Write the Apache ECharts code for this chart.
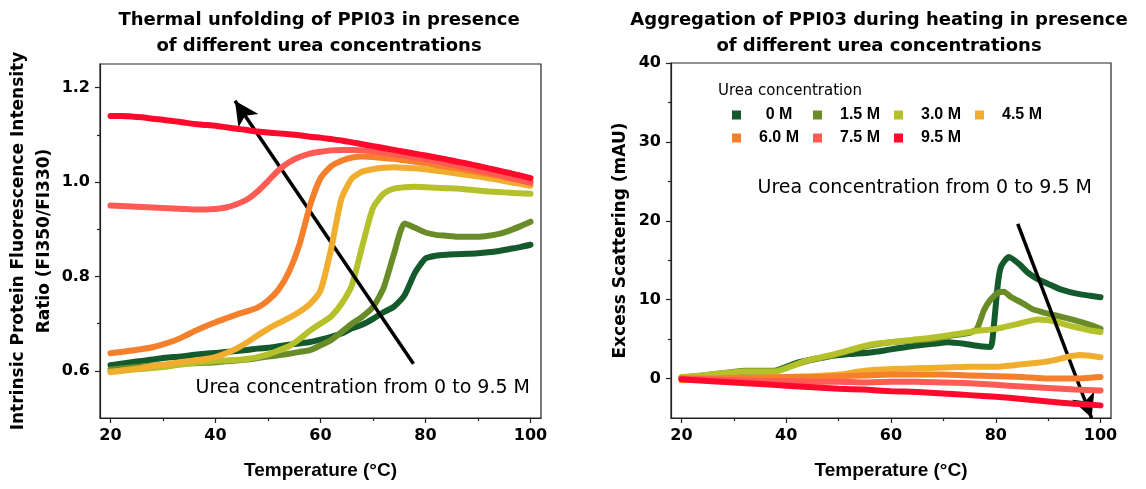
<!DOCTYPE html>
<html><head><meta charset="utf-8">
<script src="https://cdn.jsdelivr.net/npm/echarts@6/dist/echarts.min.js"></script>
<style>html,body{margin:0;padding:0;background:#fff}#c{width:1146px;height:489px}</style>
</head><body><div id="c"></div>
<script>
// ---------- data ----------
const seriesNames = ['0 M', '1.5 M', '3.0 M', '4.5 M', '6.0 M', '7.5 M', '9.5 M'];
const seriesColors = ['#145a2c', '#6a8c28', '#b5c12b', '#f1ad2e', '#f57f2a', '#ff5b55', '#ff0a2c'];
const legendRow1 = ['0 M', '1.5 M', '3.0 M', '4.5 M'];
const legendRow2 = ['6.0 M', '7.5 M', '9.5 M'];

const xTicks = [20, 40, 60, 80, 100];
const xMinor = [30, 50, 70, 90];
const yTicksL = [0.6, 0.8, 1.0, 1.2];
const yMinorL = [0.7, 0.9, 1.1];
const yTicksR = [0, 10, 20, 30, 40];
const yMinorR = [5, 15, 25, 35];

// Left panel: fluorescence ratio on a shared temperature grid
const temps = [20,22,24,26,28,30,32,34,36,38,40,42,44,46,48,50,52,54,56,58,60,62,64,66,68,70,72,74,76,78,80,82,84,86,88,90,92,94,96,98,100];
const fl_0M  = [0.612,0.615,0.618,0.621,0.624,0.627,0.629,0.631,0.634,0.636,0.638,0.640,0.642,0.644,0.647,0.649,0.652,0.655,0.658,0.661,0.666,0.672,0.679,0.690,0.698,0.710,0.724,0.736,0.760,0.808,0.838,0.844,0.846,0.847,0.848,0.849,0.851,0.854,0.858,0.862,0.867];
const fl_15M = [0.603,0.605,0.607,0.609,0.611,0.612,0.613,0.615,0.616,0.617,0.618,0.620,0.622,0.624,0.627,0.630,0.633,0.636,0.640,0.644,0.654,0.665,0.682,0.700,0.715,0.735,0.775,0.848,0.912,0.903,0.893,0.888,0.886,0.884,0.884,0.884,0.886,0.890,0.897,0.906,0.916];
const fl_30M = [0.598,0.600,0.602,0.604,0.606,0.608,0.611,0.614,0.617,0.619,0.621,0.622,0.623,0.625,0.629,0.635,0.643,0.652,0.667,0.685,0.700,0.715,0.742,0.782,0.866,0.945,0.975,0.986,0.989,0.990,0.989,0.988,0.987,0.986,0.984,0.982,0.980,0.979,0.977,0.976,0.975];
const fl_45M = [0.597,0.600,0.603,0.606,0.610,0.613,0.616,0.619,0.622,0.625,0.629,0.637,0.647,0.660,0.675,0.689,0.701,0.712,0.725,0.742,0.770,0.857,0.965,1.008,1.022,1.027,1.030,1.031,1.030,1.029,1.027,1.024,1.021,1.018,1.015,1.012,1.008,1.004,1.000,0.996,0.992];
const fl_60M = [0.637,0.640,0.643,0.646,0.650,0.656,0.663,0.673,0.684,0.694,0.703,0.711,0.719,0.726,0.734,0.749,0.772,0.810,0.868,0.950,1.008,1.033,1.045,1.052,1.054,1.053,1.051,1.049,1.046,1.043,1.040,1.036,1.032,1.029,1.025,1.021,1.017,1.013,1.008,1.004,1.000];
const fl_75M = [0.950,0.949,0.948,0.947,0.946,0.945,0.944,0.943,0.942,0.942,0.943,0.946,0.953,0.963,0.980,1.002,1.025,1.042,1.053,1.060,1.064,1.067,1.068,1.068,1.067,1.065,1.062,1.059,1.056,1.052,1.048,1.044,1.039,1.035,1.030,1.025,1.020,1.015,1.009,1.004,0.998];
const fl_95M = [1.140,1.140,1.139,1.137,1.134,1.132,1.129,1.126,1.123,1.121,1.119,1.116,1.113,1.110,1.107,1.105,1.103,1.101,1.099,1.096,1.094,1.091,1.088,1.084,1.080,1.076,1.072,1.068,1.064,1.060,1.056,1.052,1.048,1.043,1.039,1.034,1.029,1.024,1.019,1.014,1.008];

// Right panel: excess scattering, [temperature, mAU]
const sc_0M  = [[20,0],[24,0.3],[28,0.6],[32,0.9],[36,0.9],[38,1.0],[40,1.5],[42,2.0],[44,2.3],[48,2.8],[52,3.1],[56,3.3],[60,3.7],[64,4.1],[68,4.4],[71,4.6],[74,4.4],[77,4.1],[79,4.0],[79.6,6.5],[80.4,12],[81,14.2],[82.5,15.4],[84.5,14.5],[86,13.5],[88,12.6],[90,12],[92,11.4],[94,11],[96,10.7],[98,10.5],[100,10.3]];
const sc_15M = [[20,0.1],[24,0.4],[28,0.7],[32,1.0],[36,1.0],[38,1.0],[40,1.4],[44,2.2],[48,2.8],[52,3.5],[56,4.2],[60,4.6],[64,4.8],[68,5.0],[72,5.5],[75,5.8],[76.4,6.3],[77.7,8.6],[79,10.0],[80.5,10.9],[81.5,11.0],[83,10.3],[85,9.6],[87,8.8],[89,8.4],[92,7.9],[95,7.4],[98,6.8],[100,6.3]];
const sc_30M = [[20,0.2],[24,0.4],[28,0.7],[32,0.9],[36,0.9],[38,0.9],[40,1.3],[44,2.3],[48,2.9],[52,3.6],[56,4.3],[60,4.6],[64,4.9],[68,5.2],[72,5.6],[76,6.0],[80,6.3],[84,6.9],[88,7.5],[90,7.4],[92,7.1],[94,6.7],[96,6.4],[98,6.1],[100,5.9]];
const sc_45M = [[20,-0.2],[25,-0.1],[30,0.0],[35,0.1],[40,0.2],[45,0.3],[50,0.5],[53,0.8],[55,1.0],[60,1.2],[65,1.3],[70,1.4],[75,1.5],[80,1.5],[85,1.8],[88,2.0],[91,2.3],[94,2.8],[96,3.0],[98,2.9],[100,2.7]];
const sc_60M = [[20,0.0],[25,0.0],[30,0.1],[35,0.1],[40,0.2],[45,0.2],[50,0.3],[55,0.4],[60,0.5],[65,0.5],[70,0.5],[75,0.4],[80,0.3],[85,0.2],[90,0.0],[95,0.0],[100,0.2]];
const sc_75M = [[20,0.0],[25,-0.1],[30,-0.2],[35,-0.3],[40,-0.3],[45,-0.4],[50,-0.4],[55,-0.5],[60,-0.4],[65,-0.4],[70,-0.5],[75,-0.6],[80,-0.8],[85,-1.0],[90,-1.2],[95,-1.4],[100,-1.5]];
const sc_95M = [[20,-0.1],[25,-0.3],[30,-0.5],[35,-0.7],[40,-0.9],[45,-1.1],[50,-1.3],[55,-1.4],[60,-1.6],[65,-1.7],[70,-1.9],[75,-2.1],[80,-2.3],[85,-2.6],[90,-2.9],[95,-3.2],[100,-3.4]];

// Annotation arrows (data coordinates)
const arrowL = [[77.7, 0.615], [43.7, 1.172]];
const arrowR = [[84.2, 19.6], [98.3, -5.0]];

const titleL = 'Thermal unfolding of PPI03 in presence\nof different urea concentrations';
const titleR = 'Aggregation of PPI03 during heating in presence\nof different urea concentrations';
const noteText = 'Urea concentration from 0 to 9.5 M';
const legendTitle = 'Urea concentration';

// ---------- chart ----------
const flData = [fl_0M, fl_15M, fl_30M, fl_45M, fl_60M, fl_75M, fl_95M];
const scData = [sc_0M, sc_15M, sc_30M, sc_45M, sc_60M, sc_75M, sc_95M];

const BOLD = 'DejaVu Sans';
const axCol = '#222';

function xAx(grid, major) {
  return {
    type: 'value', gridIndex: grid, min: 18, max: 102, position: 'bottom',
    axisLine: { show: major, onZero: false, lineStyle: { color: axCol, width: 1.2 } },
    axisTick: { show: true, inside: false, length: major ? 5 : 3, customValues: major ? xTicks : xMinor, lineStyle: { color: axCol, width: 1.2 } },
    axisLabel: { show: major, customValues: xTicks, margin: 10, color: '#000', fontFamily: BOLD, fontWeight: 'bold', fontSize: 16 },
    splitLine: { show: false },
    name: major ? 'Temperature (°C)' : '', nameLocation: 'middle', nameGap: 43,
    nameTextStyle: { fontFamily: 'Liberation Sans', fontWeight: 'bold', fontSize: 19, color: '#000' }
  };
}
function yAx(grid, major, min, max, ticks, minor, name, gap, fmt) {
  return {
    type: 'value', gridIndex: grid, min: min, max: max, position: 'left',
    axisLine: { show: major, onZero: false, lineStyle: { color: axCol, width: 1.2 } },
    axisTick: { show: true, inside: false, length: major ? 5 : 3, customValues: major ? ticks : minor, lineStyle: { color: axCol, width: 1.2 } },
    axisLabel: { show: major, customValues: ticks, margin: 10, color: '#000', fontFamily: BOLD, fontWeight: 'bold', fontSize: 16, formatter: fmt },
    splitLine: { show: false },
    name: major ? name : '', nameLocation: 'middle', nameGap: gap,
    nameTextStyle: { fontFamily: BOLD, fontWeight: 'bold', fontSize: 17, lineHeight: 26, color: '#000' }
  };
}

const series = [];
seriesNames.forEach((n, i) => {
  series.push({
    type: 'line', name: n, xAxisIndex: 0, yAxisIndex: 0,
    data: temps.map((t, j) => [t, flData[i][j]]),
    showSymbol: false, smooth: 0.2, z: 2 + i,
    lineStyle: { width: 6, color: seriesColors[i], cap: 'round', join: 'round' },
    itemStyle: { color: seriesColors[i] }
  });
});
seriesNames.forEach((n, i) => {
  series.push({
    type: 'line', name: n, xAxisIndex: 2, yAxisIndex: 2,
    data: scData[i],
    showSymbol: false, smooth: 0.2, z: 2 + i,
    lineStyle: { width: 6, color: seriesColors[i], cap: 'round', join: 'round' },
    itemStyle: { color: seriesColors[i] }
  });
});
function arrowLine(a) {
  return {
    silent: true, symbol: ['none', 'arrow'], symbolSize: [18, 24], clip: false,
    label: { show: false }, emphasis: { disabled: true },
    lineStyle: { color: '#000', width: 3.5, type: 'solid' },
    data: [[{ coord: a[0] }, { coord: a[1] }]]
  };
}
series[6].markLine = arrowLine(arrowL);
series[13].markLine = arrowLine(arrowR);

function txt(x, y, text, font, align, valign, lh) {
  return {
    type: 'text', x: x, y: y, silent: true,
    style: { text: text, font: font, fill: '#000', align: align, verticalAlign: valign,
             textAlign: align, textVerticalAlign: valign, lineHeight: lh || undefined }
  };
}
function legendRow(names, top) {
  return {
    data: names, left: 732, top: top, orient: 'horizontal',
    padding: 0, itemGap: 1, itemWidth: 9, itemHeight: 9, icon: 'rect', selectedMode: false,
    itemStyle: { borderWidth: 0 },
    formatter: '{a|{name}}',
    textStyle: { rich: { a: { width: 66, align: 'center', fontFamily: 'Liberation Sans', fontWeight: 'bold', fontSize: 16, lineHeight: 22, color: '#000' } } }
  };
}

const option = {
  animation: false,
  backgroundColor: '#fff',
  grid: [
    { left: 100, top: 64, width: 441, height: 354, show: true, borderColor: axCol, borderWidth: 1.2, backgroundColor: 'transparent' },
    { left: 671, top: 63, width: 440, height: 355, show: true, borderColor: axCol, borderWidth: 1.2, backgroundColor: 'transparent' }
  ],
  xAxis: [xAx(0, true), xAx(0, false), xAx(1, true), xAx(1, false)],
  yAxis: [
    yAx(0, true, 0.5, 1.25, yTicksL, yMinorL, 'Intrinsic Protein Fluorescence Intensity\nRatio (FI350/FI330)', 38, v => v.toFixed(1)),
    yAx(0, false, 0.5, 1.25, yTicksL, yMinorL, '', 38),
    yAx(1, true, -5, 40, yTicksR, yMinorR, 'Excess Scattering (mAU)', 37, v => String(v)),
    yAx(1, false, -5, 40, yTicksR, yMinorR, '', 37)
  ],
  legend: [legendRow(legendRow1, 107), legendRow(legendRow2, 130)],
  graphic: [
    txt(319, 7, titleL, 'bold 18px "DejaVu Sans"', 'center', 'top', 26),
    txt(879, 7, titleR, 'bold 18px "DejaVu Sans"', 'center', 'top', 26),
    txt(530, 388, noteText, '19px "DejaVu Sans"', 'right', 'middle'),
    txt(1092, 188, noteText, '19px "DejaVu Sans"', 'right', 'middle'),
    txt(718, 91, legendTitle, '15px "DejaVu Sans"', 'left', 'middle')
  ],
  series: series
};

const chart = echarts.init(document.getElementById('c'), null, { renderer: 'canvas' });
chart.setOption(option);
</script>
</body></html>
